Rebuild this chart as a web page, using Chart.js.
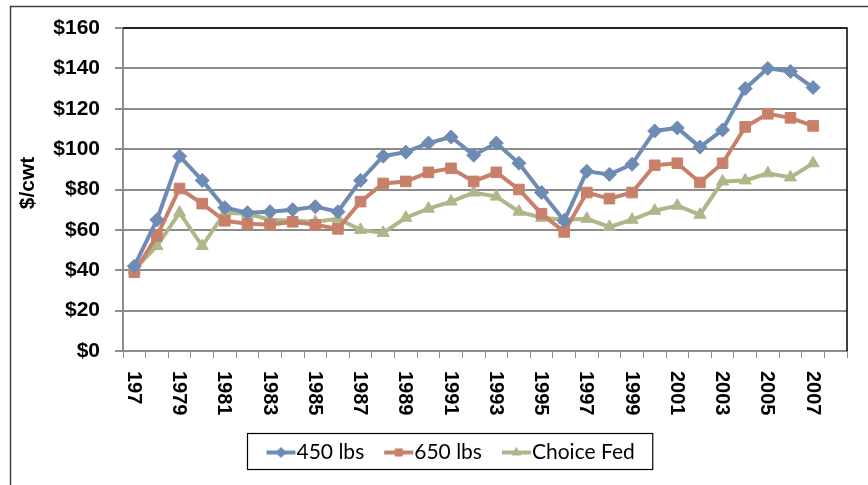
<!DOCTYPE html>
<html><head><meta charset="utf-8">
<script src="https://cdn.jsdelivr.net/npm/chart.js@4/dist/chart.umd.min.js"></script>
<style>html,body{margin:0;padding:0;background:#fff;}#wrap{width:868px;height:485px;}</style>
</head><body><div id="wrap"><canvas id="c" width="868" height="485"></canvas></div>
<script>
const years = ['1977','1978','1979','1980','1981','1982','1983','1984','1985','1986','1987','1988','1989','1990','1991','1992','1993','1994','1995','1996','1997','1998','1999','2000','2001','2002','2003','2004','2005','2006','2007','2008'];
const tickLabels = ['197','','1979','','1981','','1983','','1985','','1987','','1989','','1991','','1993','','1995','','1997','','1999','','2001','','2003','','2005','','2007',''];
const lbs450 = [42, 65, 96.5, 84.5, 71, 68.5, 69, 70, 71.5, 69, 84.5, 96.5, 98.5, 103, 106, 97, 103, 93, 78.5, 64.5, 89, 87.5, 92.5, 109, 110.5, 101, 109.5, 130, 140, 138.5, 130.5, null];
const lbs650 = [39, 57, 80.5, 73, 64.5, 63, 62.5, 64, 62.5, 60.5, 74, 83, 84, 88.5, 90.5, 84, 88.5, 80, 68, 59, 78.5, 75.5, 78.5, 92, 93, 83.5, 93, 111, 117.5, 115.5, 111.5, null];
const choiceFed = [40.5, 52, 68.5, 52, 68.5, 68, 65, 64.5, 64, 65.5, 60, 58.5, 66, 70.5, 74, 78.5, 76.5, 69, 66, 65, 65.5, 61.5, 65, 69.5, 72, 67.5, 84, 84.5, 88, 86, 93, null];
const seriesNames = ['450 lbs', '650 lbs', 'Choice Fed'];
const yTitle = '$/cwt';
const yMin = 0, yMax = 160, yStep = 20;

const BOLD = '"Liberation Sans"';
const FONT = 'Lato';
const colors = ['#6E8BB4', '#C8806A', '#ADB78A'];
const styles = ['rectRot', 'rect', 'triangle'];
const radii = [7, 7.5, 7];
const series = [lbs450, lbs650, choiceFed];

const decor = {
  id: 'decor',
  beforeDraw(chart) {
    const ctx = chart.ctx;
    ctx.save(); ctx.fillStyle = '#fff'; ctx.fillRect(0, 0, chart.width, chart.height); ctx.restore();
  },
  afterDraw(chart) {
    const ctx = chart.ctx, a = chart.chartArea, xs = chart.scales.x;
    ctx.save();
    ctx.strokeStyle = '#000'; ctx.lineWidth = 1.5;
    ctx.beginPath(); ctx.moveTo(a.left, a.top); ctx.lineTo(a.right, a.top); ctx.lineTo(a.right, a.bottom); ctx.stroke();
    ctx.fillStyle = '#000'; ctx.font = 'bold 20px ' + BOLD; ctx.textAlign = 'left'; ctx.textBaseline = 'middle';
    tickLabels.forEach((t, i) => {
      if (!t) return;
      const x = xs.getPixelForValue(i);
      ctx.save(); ctx.translate(x - 1, a.bottom + 20); ctx.rotate(Math.PI / 2); ctx.fillText(t, 0, 0); ctx.restore();
    });
    ctx.save(); ctx.translate(28, 183); ctx.rotate(-Math.PI / 2); ctx.textAlign = 'center'; ctx.textBaseline = 'middle';
    ctx.font = 'bold 21px ' + BOLD; ctx.fillText(yTitle, 0, 0); ctx.restore();
    ctx.strokeStyle = '#404040'; ctx.lineWidth = 1.5; ctx.strokeRect(10.5, 6.5, 1000, 1000);
    ctx.font = '21px ' + FONT;
    const dss = chart.data.datasets;
    const lineLen = 29, gapLT = 1, gapItems = 20, padL = 19, padR = 18;
    const widths = dss.map(d => ctx.measureText(d.label).width);
    let total = padL + padR + gapItems * (dss.length - 1);
    widths.forEach(w => total += lineLen + gapLT + w);
    const boxL = Math.round(450 - total / 2) + 0.5, boxT = 433.5, boxH = 36;
    ctx.strokeStyle = '#000'; ctx.lineWidth = 1.2; ctx.strokeRect(boxL, boxT, total, boxH);
    let x = boxL + padL; const y = boxT + boxH / 2 + 1;
    dss.forEach((d, i) => {
      ctx.strokeStyle = d.borderColor; ctx.lineWidth = 4;
      ctx.beginPath(); ctx.moveTo(x, y); ctx.lineTo(x + lineLen, y); ctx.stroke();
      ctx.fillStyle = d.borderColor; ctx.lineWidth = 1;
      Chart.helpers.drawPoint(ctx, {pointStyle: d.pointStyle, radius: 5, borderWidth: 1, rotation: 0}, x + lineLen / 2, y);
      ctx.fillStyle = '#000'; ctx.textAlign = 'left'; ctx.textBaseline = 'middle';
      ctx.fillText(d.label, x + lineLen + gapLT, y);
      x += lineLen + gapLT + widths[i] + gapItems;
    });
    ctx.restore();
  }
};

new Chart(document.getElementById('c'), {
  type: 'line',
  data: {
    labels: years,
    datasets: series.map((s, i) => ({
      label: seriesNames[i], data: s,
      borderColor: colors[i], backgroundColor: colors[i],
      pointBackgroundColor: colors[i], pointBorderColor: colors[i],
      borderWidth: 4, pointStyle: styles[i], pointRadius: radii[i], pointBorderWidth: 1,
      tension: 0, fill: false
    }))
  },
  options: {
    responsive: false, animation: false, devicePixelRatio: 1,
    layout: {padding: {left: 0, top: 28, right: 21, bottom: 0}},
    plugins: {legend: {display: false}, tooltip: {enabled: false}},
    scales: {
      x: {
        type: 'category', offset: true,
        grid: {display: true, offset: true, drawOnChartArea: false, drawTicks: true, tickLength: 7, color: '#8c8c8c', lineWidth: 1},
        border: {display: true, color: '#8c8c8c', width: 2},
        ticks: {display: false, autoSkip: false},
        afterFit(s) { s.height = 134; }
      },
      y: {
        min: yMin, max: yMax,
        ticks: {stepSize: yStep, padding: 15, color: '#000', font: {family: 'Liberation Sans', size: 21, weight: 'bold'}, callback: v => '$' + v},
        grid: {color: '#8c8c8c', lineWidth: 2, tickLength: 8, drawTicks: true},
        border: {display: true, color: '#8c8c8c', width: 2},
        afterFit(s) { s.width = 123; }
      }
    }
  },
  plugins: [decor]
});
</script></body></html>
